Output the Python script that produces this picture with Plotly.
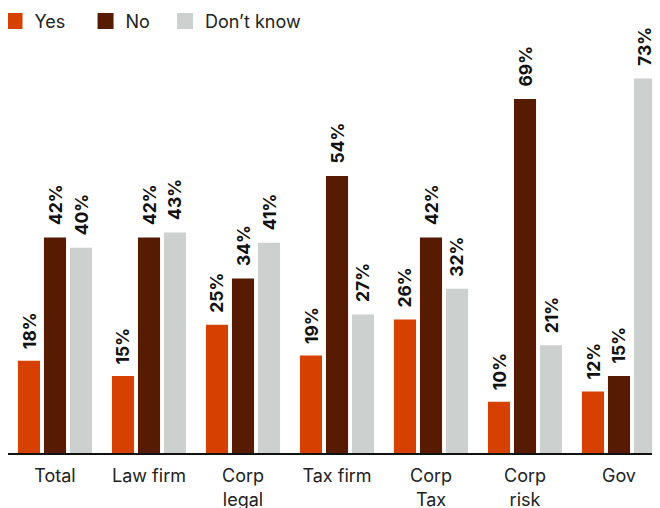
import plotly.graph_objects as go

categories = ["Total", "Law firm", "Corp<br>legal", "Tax firm", "Corp<br>Tax", "Corp<br>risk", "Gov"]
series_names = ["Yes", "No", "Don’t know"]
yes_vals = [18, 15, 25, 19, 26, 10, 12]
no_vals = [42, 42, 34, 54, 42, 69, 15]
dk_vals = [40, 43, 41, 27, 32, 21, 73]
colors = ["#D64000", "#561B00", "#CCD1CF"]
legend_pad = ["\u00a0\u00a0\u00a0", "\u00a0\u00a0", ""]

series = [yes_vals, no_vals, dk_vals]
bargap = 0.17
fig = go.Figure()
for name, vals, col in zip(series_names, series, colors):
    fig.add_trace(go.Bar(x=list(range(len(categories))), y=vals, name=name, showlegend=False,
                         marker=dict(color=col, line=dict(width=0))))
for name, col, pad in zip(series_names, colors, legend_pad):
    fig.add_trace(go.Scatter(x=[None], y=[None], mode="markers", name=name + pad,
                             marker=dict(symbol="square", size=16, color=col, line=dict(width=0))))

slot = (1 - bargap) / 3
annotations = []
for j, vals in enumerate(series):
    for i, v in enumerate(vals):
        annotations.append(dict(x=i + (j - 1) * slot, y=v, xref="x", yref="y",
                                text=f"<b>{v}%</b>", showarrow=False, textangle=-90,
                                xanchor="center", yanchor="bottom", yshift=10,
                                font=dict(family="Inter, sans-serif", size=17.5, color="#111")))

fig.update_layout(
    width=660, height=508,
    margin=dict(l=0, r=2, t=32, b=63, autoexpand=False),
    paper_bgcolor="white", plot_bgcolor="white",
    barmode="group", bargap=bargap, bargroupgap=0.15,
    showlegend=True,
    legend=dict(orientation="h", x=-0.0205, xanchor="left", y=1.045, yanchor="middle",
                font=dict(family="Inter, sans-serif", size=18, color="#222"),
                traceorder="normal", bgcolor="rgba(0,0,0,0)"),
    xaxis=dict(tickmode="array", tickvals=list(range(len(categories))), ticktext=categories,
               range=[-0.5, 6.5], showline=True, linecolor="#111", linewidth=1.5,
               showgrid=False, ticks="", zeroline=False, ticklabelstandoff=6,
               tickfont=dict(family="Inter, sans-serif", size=18, color="#222")),
    yaxis=dict(range=[0, 80.5], visible=False, showgrid=False),
    annotations=annotations,
)
fig.write_html("out.html")
